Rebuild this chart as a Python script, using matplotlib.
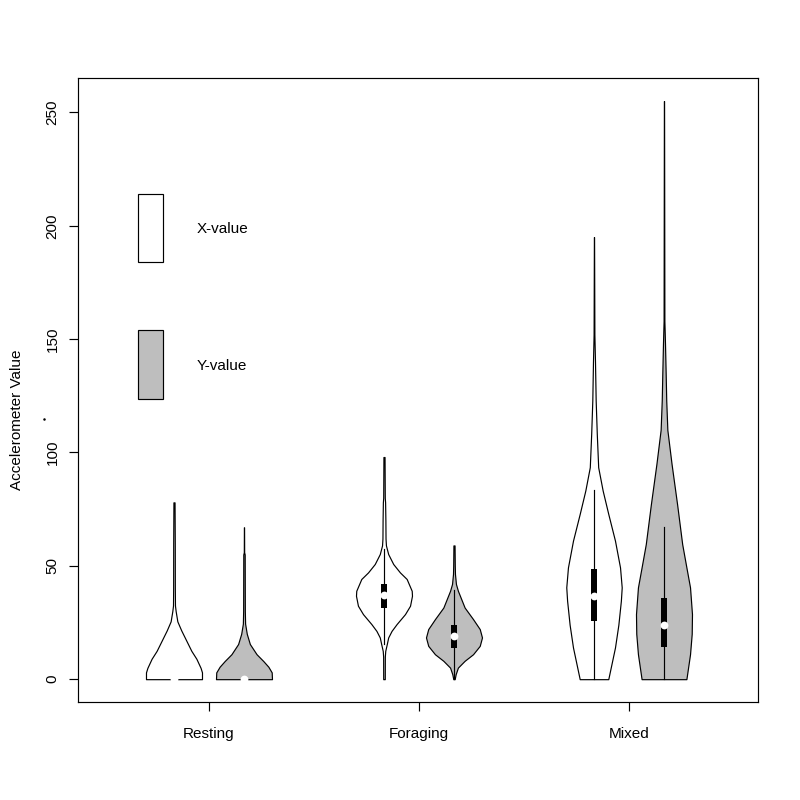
import matplotlib
matplotlib.use('Agg')
import matplotlib.pyplot as plt
from matplotlib.patches import Rectangle
from matplotlib.lines import Line2D
import numpy as np

plt.rcParams['font.family'] = ['Liberation Sans', 'DejaVu Sans']

groups = ['Resting', 'Foraging', 'Mixed']
series = ['X-value', 'Y-value']
fill_colors = ['white', '#bebebe']

# violin outlines: value and relative half width (1 = widest)
rest_x_val = [0, 3, 5, 9, 12.5, 17, 21.5, 25.5, 30, 32.5, 40, 60, 78]
rest_x_den = [1.0, 1.0, 0.95, 0.80, 0.62, 0.44, 0.26, 0.12, 0.06, 0.035, 0.03, 0.028, 0.02]
rest_y_val = [0, 3, 5.5, 8, 11, 15.5, 20, 24.5, 30, 40, 55, 56, 67]
rest_y_den = [1.0, 0.99, 0.87, 0.69, 0.45, 0.21, 0.10, 0.04, 0.03, 0.028, 0.025, 0.006, 0.003]

forage_x_val = [0, 10, 12.5, 15.5, 18.4, 21.3, 24.3, 28.7, 32.4, 36.8, 39, 44.2, 47.1,
                50.8, 55.2, 59, 62, 70, 78, 80, 98]
forage_x_den = [0.028, 0.03, 0.045, 0.1, 0.15, 0.27, 0.45, 0.75, 0.93, 1.0, 0.99, 0.81, 0.57,
                0.33, 0.15, 0.07, 0.055, 0.05, 0.04, 0.028, 0.02]
forage_y_val = [0, 2.2, 5.1, 8.1, 11, 14.7, 18.4, 22.1, 26.5, 31.6, 39, 42, 46.4, 50, 59]
forage_y_den = [0.025, 0.06, 0.14, 0.38, 0.68, 0.92, 1.0, 0.92, 0.68, 0.38, 0.14, 0.07, 0.035,
                0.028, 0.02]

mixed_x_val = [0, 14, 24, 34.6, 40.5, 49.3, 61.1, 72.9, 83.2, 93.5, 108.2, 123, 140, 152, 195]
mixed_x_den = [0.51, 0.75, 0.87, 0.96, 0.99, 0.93, 0.75, 0.51, 0.31, 0.15, 0.1, 0.06, 0.036,
               0.014, 0.003]
mixed_y_val = [0, 11, 20, 28.7, 40.5, 50, 59.6, 77, 95, 110, 123, 135, 148, 158, 255]
mixed_y_den = [0.80, 0.93, 0.99, 1.0, 0.93, 0.79, 0.65, 0.47, 0.27, 0.12, 0.08, 0.06, 0.036,
               0.014, 0.003]

violin_vals = [rest_x_val, rest_y_val, forage_x_val, forage_y_val, mixed_x_val, mixed_y_val]
violin_dens = [rest_x_den, rest_y_den, forage_x_den, forage_y_den, mixed_x_den, mixed_y_den]

# box stats per violin: lower whisker, q1, median, q3, upper whisker
whisk_lo = [0, 0, 15.7, 0, 0, 0]
q1 = [0, 0, 31.6, 13.7, 25.7, 14.3]
med = [0, 0, 37.1, 19.1, 36.8, 24.0]
q3 = [0, 0, 42.2, 24.0, 48.6, 36.0]
whisk_hi = [0, 0, 57.5, 39.5, 83.5, 67.3]

positions = [1, 2, 4, 5, 7, 8]
half_width = 0.4
box_width = 0.08

fig = plt.figure(figsize=(8, 8), dpi=100)
ax = fig.add_axes([78.3 / 800, 1 - 702.3 / 800, (758 - 78.3) / 800, (702.3 - 78) / 800])

for i, pos in enumerate(positions):
    v = np.array(violin_vals[i])
    d = np.array(violin_dens[i]) * half_width
    ax.fill_betweenx(v, pos - d, pos + d, facecolor=fill_colors[i % 2],
                     edgecolor='black', linewidth=0.85, zorder=2)
    ax.plot([pos, pos], [whisk_lo[i], whisk_hi[i]], color='black', lw=0.85, zorder=3)
    if q3[i] > q1[i]:
        ax.add_patch(Rectangle((pos - box_width / 2, q1[i]), box_width, q3[i] - q1[i],
                               facecolor='black', edgecolor='none', zorder=4))
    ax.plot(pos, med[i], 'o', color='white', ms=5.6, mec='none', zorder=5)

# legend boxes
ax.add_patch(Rectangle((0.481, 184.0), 0.366, 30.2, facecolor=fill_colors[0],
                       edgecolor='black', lw=0.85))
ax.add_patch(Rectangle((0.481, 123.7), 0.366, 30.2, facecolor=fill_colors[1],
                       edgecolor='black', lw=0.85))
ax.text(1.324, 198.8, series[0], fontsize=11, va='center', ha='left')
ax.text(1.324, 138.1, series[1], fontsize=11, va='center', ha='left')

ax.set_xlim(-0.367, 9.343)
ax.set_ylim(-10.2, 265.2)
ax.set_xticks([1.5, 4.5, 7.5])
ax.set_xticklabels(groups)
ax.set_yticks([0, 50, 100, 150, 200, 250])
ax.set_yticklabels(['0', '50', '100', '150', '200', '250'], rotation=90, va='center')
ax.tick_params(axis='both', length=6.5, width=0.85, labelsize=11, direction='out')
ax.tick_params(axis='x', pad=11)
ax.tick_params(axis='y', pad=7)
for s in ax.spines.values():
    s.set_linewidth(0.85)

fig.text(17.5 / 800, 1 - 420 / 800, 'Accelerometer Value', rotation=90,
         fontsize=11, ha='center', va='center')
fig.add_artist(Line2D([44.3 / 800], [1 - 419.3 / 800], marker='o', ms=0.8,
                      color='black', transform=fig.transFigure))

fig.savefig('out.png', dpi=100)
